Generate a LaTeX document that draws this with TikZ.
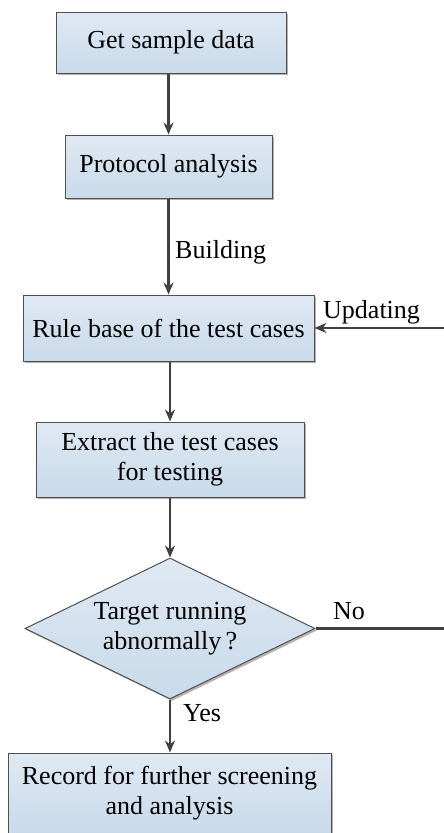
\documentclass[tikz,border=0pt]{standalone}
\usepackage{fontspec}
\setmainfont{Liberation Serif}
\newfontfamily\labelserif{Liberation Serif}
\usetikzlibrary{shapes.geometric,arrows.meta,shadows}
\definecolor{edge}{HTML}{505050}
\definecolor{linec}{HTML}{404040}
\definecolor{filltop}{HTML}{E0E9F3}
\definecolor{fillbot}{HTML}{C8DAEA}
\begin{document}
\begin{tikzpicture}[x=1pt,y=-1pt,
  every node/.style={font=\labelserif\fontsize{26}{30}\selectfont},
  procbox/.style={rectangle,draw=edge,line width=1pt,
    top color=filltop,bottom color=fillbot,align=center,inner sep=0pt,
    drop shadow={shadow xshift=2pt,shadow yshift=-2pt,fill=black,opacity=0.3}},
  decision/.style={diamond,draw=edge,line width=1pt,aspect=2.05,
    top color=filltop,bottom color=fillbot,align=center,inner sep=0pt,
    minimum width=290pt,minimum height=141pt,
    drop shadow={shadow xshift=2pt,shadow yshift=-2pt,fill=black,opacity=0.3}},
  flow/.style={draw=linec,line width=2.2pt,-{Stealth[length=12pt,width=10pt]}},
  plain/.style={draw=linec,line width=2.2pt},
  tag/.style={anchor=base west,inner sep=0pt}]
\useasboundingbox (0,0) rectangle (444,833);

\node[procbox,minimum width=230pt,minimum height=61pt] (get) at (171,42.5) {Get sample data};
\node[procbox,minimum width=207pt,minimum height=63pt] (proto) at (168.5,166.5) {Protocol analysis};
\node[procbox,minimum width=291pt,minimum height=66pt] (rule) at (168.5,328) {Rule base of the test cases};
\node[procbox,minimum width=268pt,minimum height=75pt] (extract) at (170,459.5) {Extract the test cases\\for testing};
\node[decision] (target) at (170,628.5) {\labelserif\fontsize{26}{33}\selectfont Target running\\abnormally\,?};
\node[procbox,minimum width=323pt,minimum height=80pt] (record) at (169.5,793) {Record for further screening\\and analysis};

\coordinate (updin) at (444,328);
\coordinate (noout) at (444,628.5);

\draw[flow] (get.south -| proto.north) -- (proto.north);
\draw[flow] (proto.south) -- (proto.south |- rule.north);
\draw[flow] (rule.south -| extract.north) -- (extract.north);
\draw[flow] (extract.south) -- (target.north);
\draw[flow] (target.south) -- (target.south |- record.north);
\draw[flow] (updin) -- (rule.east);
\draw[plain] (target.east) -- (noout);

\node[tag] (lbuild) at (175,258) {Building};
\node[tag] (lupd) at (323,318) {Updating};
\node[tag] (lno) at (333,619) {No};
\node[tag] (lyes) at (183,721) {Yes};
\end{tikzpicture}
\end{document}
